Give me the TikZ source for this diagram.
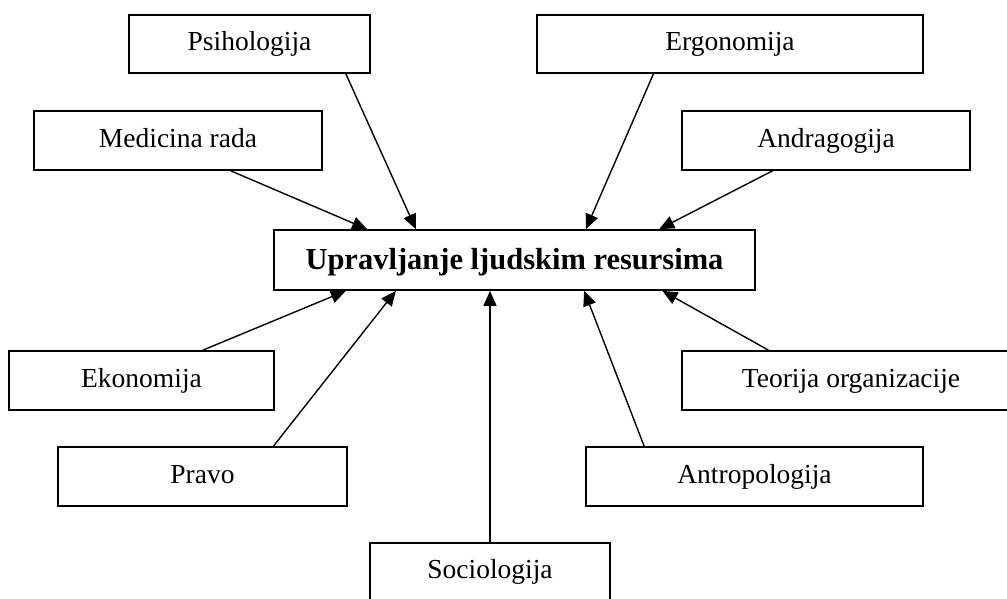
\documentclass[tikz,border=0pt]{standalone}
\usepackage{fontspec}
\setmainfont{Liberation Serif}
\usetikzlibrary{arrows.meta}
\begin{document}
\begin{tikzpicture}[x=1pt,y=-1pt,
  box/.style={draw=black, line width=1.7pt, fill=white, inner sep=0pt,
    text height=19pt, text depth=6pt, align=center,
    font=\fontsize{27.5}{33}\selectfont},
  mainbox/.style={box, text height=20pt, text depth=1pt,
    font=\fontsize{30.5}{36}\selectfont\bfseries},
  link/.style={line width=1.4pt, -{Triangle[length=15pt,width=13pt]}}
]
\clip (0,0) rectangle (1007,598);
% boxes
\node[box, minimum width=241pt, minimum height=58pt] (psi) at (249.5,44) {Psihologija};
\node[box, minimum width=288pt, minimum height=59pt] (med) at (178,140.5) {Medicina rada};
\node[box, minimum width=386pt, minimum height=58pt] (erg) at (730,44) {Ergonomija};
\node[box, minimum width=288pt, minimum height=59pt] (and) at (826,140.5) {Andragogija};
\node[mainbox, minimum width=481pt, minimum height=60pt] (main) at (514.5,260) {Upravljanje ljudskim resursima};
\node[box, minimum width=265pt, minimum height=59pt] (eko) at (141.5,380.5) {Ekonomija};
\node[box, minimum width=338pt, minimum height=59pt] (teo) at (851,380.5) {Teorija organizacije};
\node[box, minimum width=289pt, minimum height=59pt] (pra) at (202.5,476.5) {Pravo};
\node[box, minimum width=337pt, minimum height=59pt] (ant) at (754.5,476.5) {Antropologija};
\node[box, minimum width=240pt, minimum height=58pt] (soc) at (490,572) {Sociologija};
% connectors
\draw[link] ([xshift=217.7pt]psi.south west) -- ([xshift=142.7pt]main.north west);
\draw[link] ([xshift=197.7pt]med.south west) -- ([xshift=94pt]main.north west);
\draw[link] ([xshift=117.3pt]erg.south west) -- ([xshift=312.7pt]main.north west);
\draw[link] ([xshift=91.3pt]and.south west) -- ([xshift=386pt]main.north west);
\draw[link] ([xshift=194.7pt]eko.north west) -- ([xshift=72.7pt]main.south west);
\draw[link] ([xshift=216.3pt]pra.north west) -- ([xshift=122.7pt]main.south west);
\draw[link] (soc.north) -- (soc.north |- main.south);
\draw[link] ([xshift=87.3pt]teo.north west) -- ([xshift=389.3pt]main.south west);
\draw[link] ([xshift=59pt]ant.north west) -- ([xshift=311pt]main.south west);
\end{tikzpicture}
\end{document}
